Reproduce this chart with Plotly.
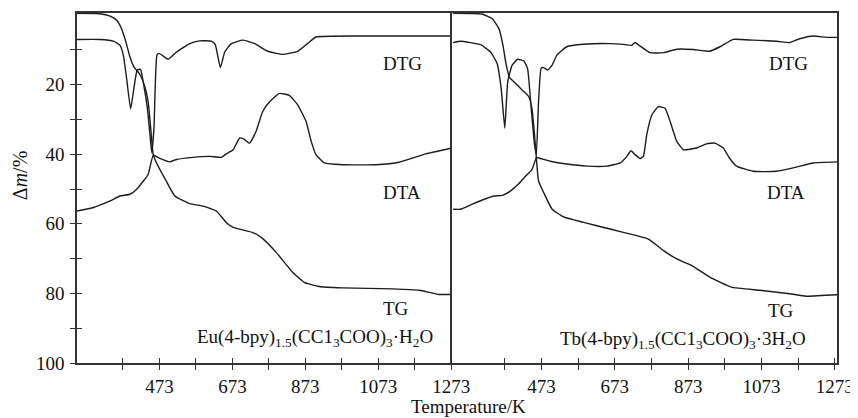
import plotly.graph_objects as go

# ---------------- data ----------------
# Left panel: Eu(4-bpy)1.5(CCl3COO)3·H2O
eu_dtg_T = [247, 310, 347, 365, 374, 383, 394, 403, 412, 421, 430, 440, 447, 452, 458, 466, 472,
            497, 520, 556, 583, 615, 626, 640, 652, 670, 702, 734, 770, 811, 852, 879, 902, 1020, 1275]
eu_dtg = [7.0, 7.0, 7.5, 8.7, 11.5, 18.2, 27.0, 21.0, 15.8, 15.6, 20.1, 26.8, 34.4, 39.6, 32.5, 11.5, 11.0,
          12.7, 10.6, 8.2, 7.4, 7.5, 8.5, 15.1, 10.6, 8.2, 7.2, 8.2, 10.4, 11.3, 10.4, 8.2, 6.3, 6.0, 6.0]

eu_tg_T = [247, 310, 338, 356, 369, 381, 392, 403, 419, 433, 442, 449, 456, 465, 488, 515, 556, 593,
           629, 656, 675, 729, 752, 793, 838, 870, 911, 975, 1112, 1185, 1239, 1275]
eu_tg = [-0.5, -0.4, 0.3, 1.5, 3.9, 7.7, 12.0, 14.9, 17.0, 20.6, 24.9, 32.5, 40.1, 42.5, 47.0, 52.0, 54.2, 54.9,
         56.3, 59.6, 61.0, 62.5, 63.9, 68.2, 73.9, 76.8, 78.0, 78.4, 78.7, 79.1, 80.3, 80.3]

eu_dta_T = [247, 292, 338, 365, 392, 410, 429, 442, 456, 474, 501, 520, 565, 611, 643, 656, 675, 693,
            704, 720, 738, 756, 775, 802, 829, 852, 875, 889, 902, 925, 975, 1066, 1130, 1203, 1275]
eu_dta = [56.3, 55.3, 53.4, 52.0, 51.5, 50.1, 47.7, 45.8, 40.3, 41.2, 42.2, 41.5, 40.9, 40.6, 40.9, 39.9, 38.7, 35.3,
          35.6, 36.8, 33.4, 27.7, 24.9, 22.5, 23.1, 25.8, 30.6, 36.3, 40.1, 42.5, 43.0, 43.0, 42.3, 39.9, 38.2]

# Right panel: Tb(4-bpy)1.5(CCl3COO)3·3H2O
tb_dtg_T = [232, 252, 279, 307, 334, 352, 363, 373, 381, 393, 408, 425, 435, 445, 454, 459, 465, 472, 479,
            490, 502, 515, 542, 588, 660, 701, 719, 728, 742, 769, 806, 842, 887, 932, 960, 996, 1050, 1114,
            1150, 1177, 1214, 1250, 1279]
tb_dtg = [7.9, 7.5, 7.9, 8.5, 10.6, 13.9, 21.0, 32.5, 19.1, 14.4, 12.7, 13.2, 15.3, 26.8, 37.2, 40.1, 24.9, 15.3, 15.1,
          15.8, 14.4, 11.5, 9.1, 8.4, 8.2, 8.5, 8.7, 7.9, 8.9, 10.8, 10.8, 9.8, 9.9, 10.4, 9.1, 7.0, 7.2, 7.5,
          7.9, 6.8, 6.0, 6.4, 6.4]

tb_tg_T = [232, 311, 338, 357, 368, 377, 386, 402, 420, 438, 447, 454, 459, 465, 479, 502, 533, 588, 660,
           733, 765, 806, 842, 883, 932, 991, 1069, 1150, 1195, 1279]
tb_tg = [-0.5, -0.3, 1.0, 3.9, 8.7, 14.4, 18.0, 19.6, 21.5, 23.4, 26.8, 34.4, 41.0, 47.7, 51.0, 55.8, 58.0, 59.6, 61.5,
         63.4, 64.4, 67.7, 70.1, 72.0, 75.3, 78.2, 79.1, 80.1, 80.8, 80.4]

tb_dta_T = [232, 252, 279, 315, 343, 366, 388, 411, 425, 447, 459, 463, 497, 542, 597, 651, 688, 706, 717,
            728, 742, 751, 760, 774, 792, 810, 824, 842, 860, 896, 923, 946, 969, 985, 1005, 1050, 1114, 1168,
            1214, 1279]
tb_dta = [55.8, 55.8, 54.6, 53.0, 52.0, 51.8, 50.6, 48.5, 46.8, 44.4, 41.0, 41.0, 42.0, 42.8, 43.4, 43.4, 42.5, 40.6, 39.0,
          40.1, 41.2, 40.6, 34.4, 28.7, 26.3, 26.8, 30.6, 36.3, 38.7, 38.2, 37.0, 36.8, 38.2, 41.0, 43.4, 44.9, 44.9, 43.7,
          42.5, 42.2]

x_ticks = [473, 673, 873, 1073, 1273]
x_minor = [373, 573, 773, 973, 1173]
y_ticks = [20, 40, 60, 80, 100]
y_minor = [10, 30, 50, 70, 90]

curve_labels = ["DTG", "DTA", "TG"]
eu_formula = "Eu(4-bpy)<sub>1.5</sub>(CC1<sub>3</sub>COO)<sub>3</sub>·H<sub>2</sub>O"
tb_formula = "Tb(4-bpy)<sub>1.5</sub>(CC1<sub>3</sub>COO)<sub>3</sub>·3H<sub>2</sub>O"

# ---------------- figure ----------------
FONT = "Liberation Serif"
LC = "#1c1c1c"
FC = "#333333"
split = (453 - 77) / 762.0
xr_left = [247, 1275]
xr_right = [229, 1279]
yr = [100, -0.6]

fig = go.Figure()
line = dict(color=LC, width=1.4, shape="spline", smoothing=0.4)
for T, v in [(eu_dtg_T, eu_dtg), (eu_tg_T, eu_tg), (eu_dta_T, eu_dta)]:
    fig.add_trace(go.Scatter(x=T, y=v, mode="lines", line=line, xaxis="x", yaxis="y",
                             showlegend=False, hoverinfo="skip"))
for T, v in [(tb_dtg_T, tb_dtg), (tb_tg_T, tb_tg), (tb_dta_T, tb_dta)]:
    fig.add_trace(go.Scatter(x=T, y=v, mode="lines", line=line, xaxis="x2", yaxis="y2",
                             showlegend=False, hoverinfo="skip"))
# empty traces to activate the overlay (inner tick) axes
fig.add_trace(go.Scatter(x=[None], y=[None], xaxis="x3", yaxis="y3", showlegend=False, hoverinfo="skip"))
fig.add_trace(go.Scatter(x=[None], y=[None], xaxis="x4", yaxis="y2", showlegend=False, hoverinfo="skip"))

tickfont = dict(family=FONT, size=19, color="#111")
base_x = dict(tickvals=x_ticks, ticktext=[str(t) for t in x_ticks], ticks="outside", ticklen=5,
              tickwidth=1.3, tickcolor=FC, showline=True, linecolor=FC, linewidth=1.5, mirror=True,
              showgrid=False, zeroline=False, tickfont=tickfont,
              minor=dict(tickvals=x_minor, ticks="outside", ticklen=5, tickwidth=1.3, tickcolor=FC))
inner_x = dict(tickvals=x_ticks, ticks="inside", ticklen=5, tickwidth=1.3, tickcolor=FC,
               showticklabels=False, showline=False, showgrid=False, zeroline=False,
               minor=dict(tickvals=x_minor, ticks="inside", ticklen=5, tickwidth=1.3, tickcolor=FC))

# the page body has an 8 px margin, so the figure is 8 px smaller and its margins shifted
fig.update_layout(
    width=850, height=410,
    margin=dict(l=69, r=19, t=3, b=55),
    paper_bgcolor="white", plot_bgcolor="white",
    font=dict(family=FONT, size=19, color="#111"),
    xaxis=dict(domain=[0, split], range=xr_left, anchor="y", **base_x),
    xaxis2=dict(domain=[split, 1], range=xr_right, anchor="y2", **base_x),
    xaxis3=dict(overlaying="x", range=xr_left, anchor="y3", **inner_x),
    xaxis4=dict(overlaying="x2", range=xr_right, anchor="y2", **inner_x),
    yaxis=dict(domain=[0, 1], range=yr, anchor="x", tickvals=y_ticks, ticks="outside", ticklen=5,
               tickwidth=1.3, tickcolor=FC, showline=True, linecolor=FC, linewidth=1.5, mirror=False,
               showgrid=False, zeroline=False, tickfont=tickfont, ticklabelstandoff=2,
               minor=dict(tickvals=y_minor, ticks="outside", ticklen=5, tickwidth=1.3, tickcolor=FC)),
    yaxis3=dict(overlaying="y", range=yr, anchor="x3", tickvals=y_ticks, ticks="inside", ticklen=5,
                tickwidth=1.3, tickcolor=FC, showticklabels=False, showline=False, showgrid=False,
                zeroline=False,
                minor=dict(tickvals=y_minor, ticks="inside", ticklen=5, tickwidth=1.3, tickcolor=FC)),
    yaxis2=dict(domain=[0, 1], range=yr, anchor="x2", showticklabels=False, ticks="",
                showline=True, linecolor=FC, linewidth=1.5, mirror=True, showgrid=False, zeroline=False),
)

ann = []
labfont = dict(family=FONT, size=19, color="#111")
for txt, T, v in zip(curve_labels, [1138, 1138, 1122], [14.0, 51.1, 84.3]):
    ann.append(dict(x=T, y=v, xref="x", yref="y", text=txt, showarrow=False, font=labfont))
for txt, T, v in zip(curve_labels, [1146, 1140, 1127], [14.0, 51.1, 84.9]):
    ann.append(dict(x=T, y=v, xref="x2", yref="y2", text=txt, showarrow=False, font=labfont))
ann.append(dict(x=900, y=92.9, xref="x", yref="y", text=eu_formula, showarrow=False, font=labfont))
ann.append(dict(x=860, y=93.4, xref="x2", yref="y2", text=tb_formula, showarrow=False, font=labfont))
# axis titles
ann.append(dict(x=(470 - 77) / 762.0, y=-(418 - 363) / 352.0, xref="paper", yref="paper",
                text="Temperature/K", showarrow=False, font=dict(family=FONT, size=19, color="#111"),
                xanchor="center", yanchor="bottom", borderpad=0))
ann.append(dict(x=(20 - 77) / 762.0, y=(363 - 174) / 352.0, xref="paper", yref="paper",
                text="Δ<i>m</i>/%", textangle=-90, showarrow=False,
                font=dict(family=FONT, size=20, color="#111"), xanchor="center", yanchor="middle"))
fig.update_layout(annotations=ann)

fig.write_html("out.html")
